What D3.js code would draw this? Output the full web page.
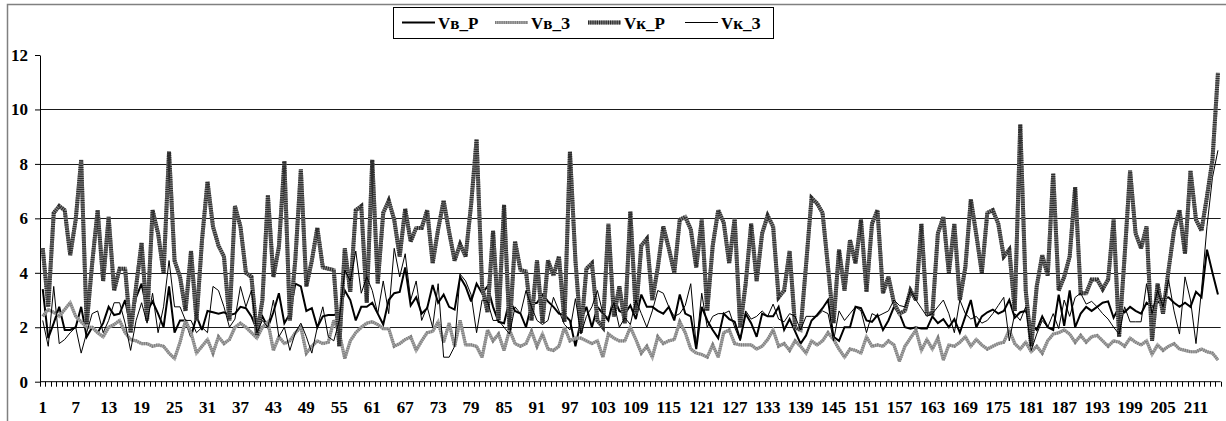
<!DOCTYPE html>
<html>
<head>
<meta charset="utf-8">
<script src="https://cdn.jsdelivr.net/npm/d3@7"></script>
<style>
  body { margin: 0; background: #fff; }
  svg { display: block; }
  text { font-family: "Liberation Serif", "Times New Roman", serif; font-weight: bold; fill: #000; }
</style>
</head>
<body>
<svg id="chart" width="1226" height="421"></svg>
<script>
// Vв_Р
const vbR = [
  3.4, 1.6, 2.15, 2.75, 1.9, 1.9, 2.0, 2.75, 1.65, 2.0,
  1.8, 2.15, 2.75, 2.45, 2.5, 3.0, 2.0, 3.1, 3.6, 2.6,
  2.95, 2.5, 2.0, 3.5, 1.8, 2.25, 2.25, 1.65, 2.4, 1.9,
  2.6, 2.55, 2.5, 2.55, 2.45, 2.5, 2.75, 2.7, 2.4, 1.9,
  2.4, 2.0, 2.55, 3.25, 2.15, 2.5, 3.6, 3.5, 2.6, 2.7,
  2.0, 2.4, 2.45, 2.45, 2.5, 3.35, 3.0, 2.25, 2.75, 2.75,
  2.9, 2.5, 2.1, 3.0, 3.25, 3.3, 4.2, 2.8, 3.1, 2.5,
  2.7, 3.55, 2.9, 3.2, 2.75, 2.65, 3.85, 3.5, 2.95, 3.6,
  3.25, 3.5, 2.75, 2.2, 2.15, 3.0, 2.6, 2.5, 2.0, 2.85,
  2.9, 3.2, 2.95, 2.75, 2.5, 2.45, 2.25, 1.3, 2.25, 2.75,
  2.0, 2.75, 2.5, 2.25, 3.1, 2.6, 2.5, 2.8, 2.3, 3.2,
  2.75, 2.75, 2.6, 2.5, 2.75, 2.25, 3.2, 2.5, 2.4, 1.2,
  2.75, 2.25, 1.9, 1.6, 2.5, 2.3, 2.2, 1.55, 2.5, 2.15,
  1.65, 2.5, 2.4, 2.4, 2.75, 1.9, 2.3, 1.85, 1.4, 1.7,
  2.25, 2.45, 2.7, 3.0, 1.65, 1.5, 2.0, 2.0, 2.75, 2.7,
  2.25, 2.2, 2.45, 1.9, 2.25, 2.75, 2.5, 2.0, 1.95, 2.0,
  1.95, 1.95, 2.4, 2.15, 2.3, 2.0, 2.3, 1.8, 2.4, 3.0,
  2.0, 2.4, 2.55, 2.65, 2.5, 2.6, 3.0, 2.35, 2.55, 2.6,
  2.1, 1.9, 2.4, 2.0, 1.9, 3.2, 2.05, 3.35, 2.0, 2.5,
  2.75, 2.6, 2.75, 2.9, 2.95, 2.35, 2.75, 2.55, 2.75, 2.6,
  2.5, 2.9, 2.75, 2.9, 3.05, 3.1, 2.9, 2.75, 2.9, 2.75,
  3.3, 3.1, 4.85, 4.0, 3.2
];

// Vв_З
const vbZ = [
  2.4, 2.65, 2.55, 2.4, 2.65, 2.9, 2.4, 2.2, 2.0, 2.0,
  1.8, 1.65, 2.0, 2.1, 2.25, 1.8, 1.55, 1.5, 1.4, 1.4,
  1.3, 1.35, 1.3, 1.05, 0.85, 1.45, 2.25, 1.8, 1.05, 1.3,
  1.55, 1.05, 1.65, 1.4, 1.55, 2.0, 2.15, 2.0, 1.8, 1.6,
  2.0, 2.2, 1.15, 1.65, 1.4, 1.5, 1.8, 2.0, 1.05, 1.3,
  1.5, 1.4, 1.45, 2.25, 1.8, 0.85, 1.5, 1.8, 2.0, 2.15,
  2.2, 2.1, 1.95, 1.95, 1.3, 1.4, 1.55, 1.65, 1.15, 1.5,
  1.8, 1.85, 2.2, 1.45, 2.15, 1.3, 2.25, 1.35, 1.35, 1.3,
  0.9, 1.9, 1.5, 1.75, 1.15, 1.9, 1.4, 1.3, 1.4, 1.85,
  1.3, 1.75, 1.2, 1.15, 1.3, 2.0, 1.5, 1.6, 1.6, 1.5,
  1.4, 1.5, 0.9, 1.75, 1.6, 1.5, 1.5, 2.0, 1.55, 1.05,
  1.3, 0.9, 1.65, 1.4, 1.5, 1.55, 2.2, 1.8, 1.2, 1.05,
  1.0, 0.9, 1.35, 0.9, 1.8, 1.9, 1.4, 1.35, 1.35, 1.35,
  1.2, 1.3, 1.55, 1.9, 1.3, 1.4, 1.15, 1.5, 1.3, 1.05,
  1.5, 1.35, 1.5, 1.8, 1.55, 1.2, 0.9, 1.2, 1.15, 1.05,
  1.65, 1.3, 1.35, 1.3, 1.5, 1.35, 0.75, 1.3, 1.6, 1.9,
  1.15, 1.55, 1.2, 1.6, 0.8, 1.35, 1.3, 1.45, 1.65, 1.3,
  1.55, 1.35, 1.2, 1.3, 1.4, 1.45, 1.9, 1.4, 1.2, 1.45,
  1.1, 1.3, 1.05, 1.5, 1.75, 1.8, 1.9, 1.75, 1.45, 1.7,
  1.45, 1.65, 1.7, 1.5, 1.3, 1.5, 1.45, 1.3, 1.6, 1.45,
  1.35, 1.5, 1.0, 1.35, 1.15, 1.3, 1.4, 1.2, 1.15, 1.1,
  1.1, 1.2, 1.1, 1.05, 0.8
];

// Vк_Р
const vkR = [
  4.9, 2.75, 6.2, 6.45, 6.3, 4.65, 5.95, 8.15, 2.1, 4.35,
  6.3, 3.7, 6.05, 3.35, 4.15, 4.15, 1.8, 3.5, 5.1, 2.25,
  6.3, 5.45, 4.0, 8.45, 4.45, 3.85, 2.6, 4.8, 2.25, 5.2,
  7.35, 5.7, 5.0, 4.6, 2.25, 6.45, 5.7, 4.0, 3.85, 1.7,
  3.0, 6.85, 3.85, 4.95, 8.1, 2.25, 4.5, 7.8, 3.5, 4.45,
  5.65, 4.2, 4.15, 4.1, 1.3, 4.9, 3.3, 6.3, 6.45, 2.9,
  8.15, 3.6, 6.2, 6.65, 5.95, 4.6, 6.35, 5.15, 5.65, 5.65,
  6.3, 4.35, 5.6, 6.65, 5.5, 4.45, 5.05, 4.6, 6.5, 8.9,
  3.5, 2.55, 5.55, 2.25, 6.5, 1.9, 5.15, 4.1, 4.05, 2.25,
  4.45, 2.15, 4.45, 3.9, 4.6, 2.2, 8.45, 4.45, 1.8, 4.15,
  4.35, 2.25, 2.0, 5.8, 2.4, 3.5, 2.15, 6.25, 2.5, 5.0,
  5.25, 3.0, 4.2, 5.7, 4.9, 4.0, 5.95, 6.05, 5.6, 4.2,
  5.95, 2.6, 5.0, 6.3, 5.85, 4.35, 6.0, 2.0, 3.6, 5.8,
  3.7, 5.45, 6.1, 5.7, 3.1, 3.35, 4.8, 2.0, 1.9, 4.3,
  6.75, 6.55, 6.2, 4.2, 2.15, 4.85, 3.35, 5.2, 4.35, 5.95,
  3.3, 5.8, 6.3, 3.25, 3.85, 2.9, 2.5, 2.6, 3.35, 3.0,
  5.8, 2.5, 2.5, 5.45, 6.05, 4.0, 5.8, 3.0, 4.2, 6.7,
  5.4, 4.0, 6.2, 6.3, 5.8, 4.6, 4.85, 2.6, 9.45, 3.35,
  1.3, 3.5, 4.65, 3.9, 7.65, 3.35, 3.85, 4.6, 7.15, 3.25,
  3.25, 3.75, 3.75, 3.4, 3.75, 5.95, 1.65, 4.6, 7.75, 5.45,
  4.9, 5.7, 1.5, 3.6, 2.5, 4.1, 5.55, 6.3, 4.7, 7.75,
  5.95, 5.55, 6.8, 8.15, 11.35
];

// Vк_З
const vkZ = [
  2.25, 1.3, 3.5, 1.4, 1.55, 1.8, 2.0, 1.05, 1.8, 2.5,
  2.6, 1.8, 2.25, 2.9, 2.9, 2.15, 1.15, 2.25, 2.9, 2.15,
  3.25, 1.8, 2.75, 4.45, 2.75, 2.75, 2.25, 2.25, 1.8, 2.0,
  1.8, 3.5, 3.35, 2.75, 2.0, 2.3, 3.5, 2.75, 3.35, 1.8,
  2.25, 2.0, 3.0, 1.65, 2.0, 1.15, 1.8, 2.15, 1.65, 1.05,
  2.0, 2.75, 1.65, 1.5, 2.25, 4.1, 3.7, 4.8, 3.25, 3.85,
  3.35, 2.5, 3.7, 2.5, 4.9, 3.85, 4.7, 3.0, 3.7, 2.25,
  2.75, 2.0, 3.6, 0.9, 0.9, 1.3, 3.95, 3.7, 3.2, 1.8,
  3.0, 2.95, 2.25, 2.25, 2.0, 1.75, 2.75, 2.5, 3.35, 2.75,
  2.25, 2.1, 2.25, 3.1, 2.6, 2.1, 1.9, 3.05, 1.75, 2.4,
  2.75, 3.35, 2.5, 2.35, 2.9, 2.0, 2.35, 2.1, 3.0, 2.5,
  2.0, 2.6, 3.35, 3.25, 2.75, 2.4, 2.5, 2.8, 3.6, 1.3,
  3.25, 2.0, 2.4, 2.5, 2.5, 2.6, 2.0, 1.5, 2.6, 2.3,
  2.4, 2.6, 2.4, 2.85, 2.3, 2.2, 2.5, 2.4, 1.9, 2.4,
  2.4, 2.4, 2.6, 2.5, 1.5, 2.6, 2.25, 2.5, 2.75, 2.6,
  1.8, 2.5, 2.4, 2.5, 2.6, 3.0, 2.8, 2.75, 3.35, 3.0,
  2.7, 2.4, 2.5, 2.75, 3.0, 2.5, 1.8, 3.0, 2.5, 2.3,
  2.4, 2.15, 2.25, 2.5, 2.8, 3.1, 1.5, 2.5, 2.25, 2.75,
  1.15, 1.75, 2.25, 2.0, 2.5, 1.95, 3.0, 2.4, 3.1, 3.25,
  2.85, 2.95, 2.75, 2.5, 2.3, 2.0, 1.75, 2.75, 2.2, 2.2,
  2.2, 3.6, 2.5, 3.35, 2.75, 3.75, 2.6, 1.75, 3.85, 3.0,
  1.4, 3.35, 5.7, 7.5, 8.5
];

const seriesNames = ["Vв_Р", "Vв_З", "Vк_Р", "Vк_З"];
const categories = d3.range(1, vbR.length + 1);
const tickLabels = categories.filter((d) => (d - 1) % 6 === 0);
const yTicks = [0, 2, 4, 6, 8, 10, 12];
const gridValues = [2, 4, 6, 8, 10];

const svg = d3.select("#chart");
const plot = { left: 40, right: 1220.7, top: 55, bottom: 381.7 };

const x = d3.scaleBand().domain(categories).range([plot.left, plot.right]);
const y = d3.scaleLinear().domain([0, 12]).range([plot.bottom, plot.top]);
const cx = (c) => x(c) + x.bandwidth() / 2;

// outer chart border (right/bottom fall outside the picture)
svg.append("rect")
  .attr("x", 7.5).attr("y", 4.5)
  .attr("width", 1240).attr("height", 440)
  .attr("fill", "none")
  .attr("stroke", "#808080")
  .attr("stroke-width", 1.5);

// grid lines
svg.append("g")
  .selectAll("line")
  .data(gridValues)
  .join("line")
  .attr("x1", plot.left).attr("x2", plot.right)
  .attr("y1", (d) => Math.round(y(d)) + 0.5)
  .attr("y2", (d) => Math.round(y(d)) + 0.5)
  .attr("stroke", "#1a1a1a");

// y axis
const yAxis = d3.axisLeft(y).tickValues(yTicks).tickSize(5).tickSizeOuter(0).tickPadding(7);
svg.append("g")
  .attr("transform", `translate(${plot.left},0)`)
  .call(yAxis)
  .call((g) => g.selectAll("line, path").attr("stroke", "#000"))
  .call((g) => g.selectAll("text")
    .style("font-family", '"Liberation Serif", serif')
    .style("font-weight", "bold")
    .style("font-size", "17px"));

// x axis: line, ticks between every category, labels every 6th
const xg = svg.append("g");
xg.append("line")
  .attr("x1", plot.left).attr("x2", plot.right)
  .attr("y1", plot.bottom).attr("y2", plot.bottom)
  .attr("stroke", "#000");
const edges = categories.map((c) => x(c)).concat([plot.right]);
xg.selectAll(".minor")
  .data(edges)
  .join("line")
  .attr("class", "minor")
  .attr("x1", (d) => Math.round(d) + 0.5)
  .attr("x2", (d) => Math.round(d) + 0.5)
  .attr("y1", plot.bottom)
  .attr("y2", plot.bottom + 5)
  .attr("stroke", "#000");

const xAxis = d3.axisBottom(x).tickValues(tickLabels).tickSize(0).tickPadding(19);
svg.append("g")
  .attr("transform", `translate(0,${plot.bottom})`)
  .call(xAxis)
  .call((g) => g.select(".domain").remove())
  .call((g) => g.selectAll("text")
    .style("font-family", '"Liberation Serif", serif')
    .style("font-weight", "bold")
    .style("font-size", "17px"));

// series
const line = d3.line().x((d, i) => cx(categories[i])).y((d) => y(d));

const styles = [
  { data: vbR, layers: [{ stroke: "#000", width: 2 }] },
  { data: vbZ, layers: [{ stroke: "#ababab", width: 3.2 }, { stroke: "#7c7c7c", width: 3.2, dash: "1 1.2" }] },
  { data: vkR, layers: [{ stroke: "#8c8c8c", width: 4 }, { stroke: "#2c2c2c", width: 4, dash: "1.2 1" }] },
  { data: vkZ, layers: [{ stroke: "#000", width: 1 }] },
];

styles.forEach((s) => {
  s.layers.forEach((l) => {
    svg.append("path")
      .datum(s.data)
      .attr("d", line)
      .attr("fill", "none")
      .attr("stroke", l.stroke)
      .attr("stroke-width", l.width)
      .attr("stroke-linejoin", "miter")
      .attr("stroke-miterlimit", 3)
      .attr("stroke-dasharray", l.dash || null);
  });
});

// legend
const legend = svg.append("g");
legend.append("rect")
  .attr("x", 393.5).attr("y", 7.5)
  .attr("width", 380).attr("height", 31)
  .attr("fill", "#fff")
  .attr("stroke", "#000");

const itemX = [402, 495, 588, 685];
seriesNames.forEach((name, i) => {
  const g = legend.append("g").attr("transform", `translate(${itemX[i]},22.5)`);
  styles[i].layers.forEach((l) => {
    g.append("line")
      .attr("x1", 0).attr("x2", 33)
      .attr("stroke", l.stroke)
      .attr("stroke-width", l.width)
      .attr("stroke-dasharray", l.dash || null);
  });
  g.append("text")
    .attr("x", 36).attr("y", 6)
    .style("font-size", "17px")
    .text(name);
});
</script>
</body>
</html>
